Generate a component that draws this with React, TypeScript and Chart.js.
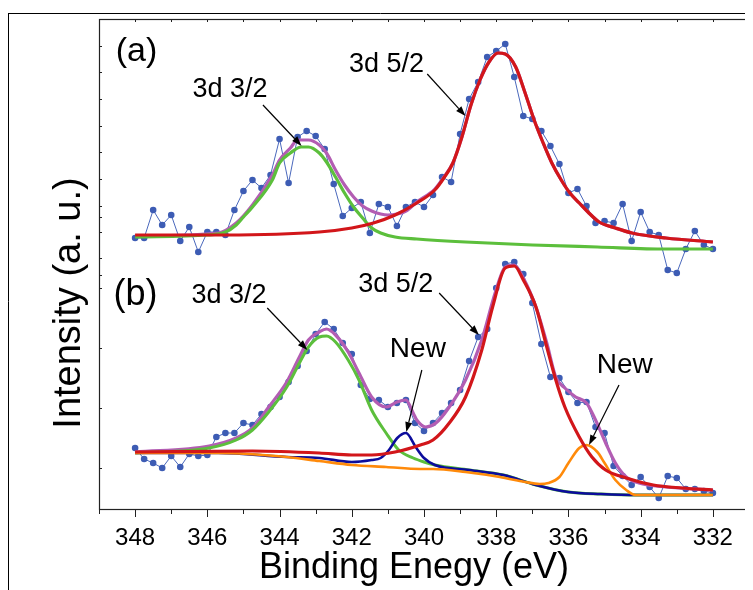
import { useEffect, useRef } from 'react';
import { Chart, registerables } from 'chart.js';

Chart.register(...registerables);

// ---------- data ----------
const energy = [
  348, 347.75, 347.5, 347.25, 347, 346.75, 346.5, 346.25, 346, 345.75, 345.5, 345.25, 345,
  344.75, 344.5, 344.25, 344, 343.75, 343.5, 343.25, 343, 342.75, 342.5, 342.25, 342,
  341.75, 341.5, 341.25, 341, 340.75, 340.5, 340.25, 340, 339.75, 339.5, 339.25, 339,
  338.75, 338.5, 338.25, 338, 337.75, 337.5, 337.25, 337, 336.75, 336.5, 336.25, 336,
  335.75, 335.5, 335.25, 335, 334.75, 334.5, 334.25, 334, 333.75, 333.5, 333.25, 333,
  332.75, 332.5, 332.25, 332,
];

const spectrumA = [
  272, 272, 300, 285, 295, 269, 283, 258, 278, 278, 275, 300, 319, 330, 322, 335, 371, 327, 373, 379,
  374, 361, 326, 294, 302, 308, 277, 306, 303, 284, 303, 308, 303, 315, 333, 328, 376, 411, 428, 453,
  459, 466, 433, 394, 391, 379, 364, 346, 317, 321, 304, 287, 289, 287, 306, 269, 298, 278, 275, 240,
  237, 261, 279, 265, 261,
];

const spectrumB = [
  62, 51, 47, 42, 54, 43, 56, 54, 55, 73, 77, 77, 87, 85, 96, 103, 113, 128, 144, 159,
  176, 188, 181, 167, 156, 125, 111, 110, 103, 107, 110, 87, 79, 87, 97, 107, 120, 149, 173, 181,
  222, 246, 248, 236, 207, 166, 133, 132, 118, 107, 108, 83, 77, 44, 34, 25, 33, 23, 12, 34,
  32, 21, 21, 19, 17,
];

// (a) fitted curves
const fitA32E = [348, 346, 345.5, 345.2, 345, 344.75, 344.2, 344, 343.7, 343.4, 343.2, 342.9, 342.7, 342.45, 342.2, 341.95, 341.7, 341.45, 341.2, 340.8, 340.2, 338.85, 337, 335.2, 333.3, 332];
const fitA32 = [273, 275, 278, 285, 293, 303, 330, 347, 357, 363, 363, 357, 348, 333, 317, 303, 292, 282, 277, 273, 271, 268, 265, 263, 261, 261];

const fitA52E = [348, 345.5, 342.9, 342, 341.4, 340.8, 340.2, 339.7, 339.45, 339.2, 338.95, 338.7, 338.45, 338.2, 337.95, 337.75, 337.46, 337.2, 336.95, 336.7, 336.46, 336.2, 335.96, 335.7, 335.46, 335.15, 334.7, 334.24, 333.3, 332];
const fitA52 = [275, 275, 278, 282, 287, 295, 307, 320, 332, 347, 373, 405, 430, 448, 457, 456, 443, 417, 390, 367, 347, 330, 317, 307, 298, 288, 282, 277, 272, 268];

const fitASumE = [348, 345.7, 345.2, 344.75, 344.2, 344, 343.7, 343.5, 343.2, 342.9, 342.7, 342.45, 342.2, 341.95, 341.7, 341.45, 341.2, 341, 340.75, 340.5, 340.2, 339.7, 339.45, 339.2, 338.95, 338.7, 338.45, 338.2, 337.95, 337.75, 337.46, 337.2, 336.95, 336.7, 336.46, 336.2, 335.96, 335.7, 335.46, 335.15, 334.7, 334.24, 333.3, 332];
const fitASum = [274, 277, 287, 305, 335, 350, 362, 370, 370, 365, 357, 340, 325, 313, 304, 299, 296, 295, 296, 299, 308, 321, 333, 347, 373, 405, 430, 448, 457, 456, 443, 417, 390, 367, 347, 330, 317, 307, 298, 288, 282, 277, 272, 268];

// (b) fitted curves
const fitB32E = [348, 345.95, 345.2, 344.75, 344.3, 343.8, 343.45, 343.2, 342.9, 342.7, 342.45, 342.1, 341.8, 341.45, 341.05, 340.7, 340.3, 340, 339.7, 338.75, 337.8, 336.9, 336, 335.1, 334.1, 332];
const fitB32 = [57, 62, 70, 80, 98, 123, 147, 163, 173, 174, 168, 150, 130, 100, 77, 60, 52, 48, 45, 40, 35, 25, 18, 16, 15, 15];

const fitBNew1E = [348, 345.7, 343.8, 342.9, 342, 341.45, 341.2, 340.97, 340.74, 340.5, 340.23, 340, 339.7, 338.75, 337.8, 336.9, 336, 335.1, 334.1, 332];
const fitBNew1 = [57, 57, 53, 52, 48, 50, 52, 60, 72, 77, 63, 52, 45, 40, 35, 25, 18, 16, 15, 15];

const fitBNew2E = [348, 345.7, 343.8, 342.9, 342, 341.05, 340.1, 339.75, 338.85, 337.9, 337.2, 336.8, 336.55, 336.25, 336, 335.7, 335.5, 335.2, 335, 334.7, 334.4, 334.15, 332];
const fitBNew2 = [57, 57, 53, 49, 45, 43, 41, 41, 38, 33, 28, 26, 27, 33, 47, 62, 65, 58, 47, 30, 20, 15, 15];

const fitB52E = [348, 344.75, 342.9, 342, 341.45, 340.8, 340.1, 339.75, 339.3, 338.85, 338.4, 338.1, 337.75, 337.5, 337.25, 336.9, 336.6, 336.35, 336.1, 335.7, 335.35, 334.97, 334.4, 333.65, 332.85, 332];
const fitB52 = [58, 59, 57, 55, 55, 58, 65, 70, 87, 113, 160, 203, 242, 244, 230, 203, 163, 130, 103, 73, 53, 40, 32, 25, 22, 20];

const fitBSumE = [348, 345.95, 345.2, 344.75, 344.3, 343.8, 343.45, 343.2, 342.9, 342.7, 342.45, 342.1, 341.8, 341.45, 341.05, 340.75, 340.5, 340.3, 340.2, 339.95, 339.67, 339.3, 338.85, 338.4, 338.03, 337.75, 337.5, 337.25, 336.9, 336.6, 336.35, 336.1, 335.8, 335.5, 335.25, 334.97, 334.7, 334.4, 334.05, 333.3, 332];
const fitBSum = [58, 64, 72, 82, 103, 128, 153, 170, 178, 181, 175, 158, 137, 113, 103, 108, 110, 97, 90, 83, 87, 103, 130, 170, 217, 243, 245, 232, 203, 167, 133, 122, 113, 107, 90, 67, 47, 33, 27, 23, 20];

// axes
const xMajorTicks = [348, 346, 344, 342, 340, 338, 336, 334, 332];
const xMinorTicks = [349, 347, 345, 343, 341, 339, 337, 335, 333, 331];
const yTicksLeft = [464, 438, 411, 384, 358, 331, 304, 293, 278, 252, 235, 222, 162, 102, 42];
const yTicksRight = [465, 438, 412, 385, 358, 332, 305, 293, 280, 252, 237, 210, 172, 112, 48];

// annotations
const labelTexts = ['(a)', '3d 3/2', '3d 5/2', '(b)', '3d 3/2', '3d 5/2', 'New', 'New'];
const labelE = [347.96, 345.37, 341.04, 347.99, 345.4, 340.78, 340.17, 334.44];
const labelV = [449, 413, 438, 205, 207, 218, 153, 137];
const labelSize = [34, 27, 27, 36, 27, 27, 28, 28];

const arrowFromE = [344.46, 339.91, 344.34, 339.58, 340.06, 334.6];
const arrowFromV = [405, 436, 202, 217, 140, 125];
const arrowToE = [343.39, 338.85, 343.23, 338.48, 340.49, 335.43];
const arrowToV = [364, 394, 160, 175, 78, 65];

const FONT = "'Liberation Sans', Arial, Helvetica, sans-serif";

const pts = (xs: number[], ys: number[]) => xs.map((x, i) => ({ x, y: ys[i] }));

const fitLine = (label: string, xs: number[], ys: number[], color: string, width: number) => ({
  label,
  data: pts(xs, ys),
  borderColor: color,
  backgroundColor: color,
  borderWidth: width,
  pointRadius: 0,
  cubicInterpolationMode: 'monotone' as const,
  fill: false,
});

const dataLine = (label: string, ys: number[]) => ({
  label,
  data: pts(energy, ys),
  borderColor: '#4a68bc',
  backgroundColor: '#3d5cb4',
  borderWidth: 1,
  pointRadius: 3.3,
  pointBorderWidth: 0,
  pointBackgroundColor: '#3d5cb4',
  tension: 0,
  fill: false,
});

const overlay = {
  id: 'overlay',
  afterDraw(chart: any) {
    const ctx: CanvasRenderingContext2D = chart.ctx;
    const { left, right, top, bottom } = chart.chartArea;
    const xs = chart.scales.x;
    const ys = chart.scales.y;
    ctx.save();

    // outer frame (top and left rules)
    ctx.strokeStyle = '#000';
    ctx.lineWidth = 1;
    ctx.beginPath();
    ctx.moveTo(0, 5.5);
    ctx.lineTo(chart.width, 5.5);
    ctx.moveTo(0.5, 5);
    ctx.lineTo(0.5, chart.height);
    ctx.stroke();

    // plot frame
    ctx.strokeStyle = '#222';
    ctx.lineWidth = 1.2;
    ctx.strokeRect(left + 0.5, top + 0.5, right - left - 1, bottom - top - 1);

    // x ticks
    ctx.lineWidth = 1;
    ctx.beginPath();
    const allX = [...xMajorTicks, ...xMinorTicks];
    allX.forEach((v) => {
      const px = Math.round(xs.getPixelForValue(v)) + 0.5;
      ctx.moveTo(px, top);
      ctx.lineTo(px, top + 3);
    });
    xMajorTicks.forEach((v) => {
      const px = Math.round(xs.getPixelForValue(v)) + 0.5;
      ctx.moveTo(px, bottom);
      ctx.lineTo(px, bottom + 7);
    });
    xMinorTicks.forEach((v) => {
      const px = Math.round(xs.getPixelForValue(v)) + 0.5;
      ctx.moveTo(px, bottom);
      ctx.lineTo(px, bottom + 4);
    });
    yTicksLeft.forEach((v) => {
      const py = Math.round(ys.getPixelForValue(v)) + 0.5;
      ctx.moveTo(left, py);
      ctx.lineTo(left + 3, py);
    });
    yTicksRight.forEach((v) => {
      const py = Math.round(ys.getPixelForValue(v)) + 0.5;
      ctx.moveTo(right, py);
      ctx.lineTo(right - 3, py);
    });
    ctx.stroke();

    // tick labels
    ctx.fillStyle = '#000';
    ctx.textAlign = 'center';
    ctx.textBaseline = 'alphabetic';
    ctx.font = `24px ${FONT}`;
    xMajorTicks.forEach((v) => {
      ctx.fillText(String(v), xs.getPixelForValue(v), bottom + 35);
    });

    // axis titles
    ctx.font = `36px ${FONT}`;
    ctx.fillText('Binding Enegy (eV)', left + 315, bottom + 68);
    ctx.save();
    ctx.translate(left - 19, top + 284);
    ctx.rotate(-Math.PI / 2);
    ctx.font = `38px ${FONT}`;
    ctx.fillText('Intensity (a. u.)', 0, 0);
    ctx.restore();

    // annotation labels
    labelTexts.forEach((t, i) => {
      ctx.font = `${labelSize[i]}px ${FONT}`;
      ctx.fillText(t, xs.getPixelForValue(labelE[i]), ys.getPixelForValue(labelV[i]));
    });

    // arrows
    ctx.strokeStyle = '#000';
    ctx.fillStyle = '#000';
    ctx.lineWidth = 1.2;
    arrowFromE.forEach((_, i) => {
      const x1 = xs.getPixelForValue(arrowFromE[i]);
      const y1 = ys.getPixelForValue(arrowFromV[i]);
      const x2 = xs.getPixelForValue(arrowToE[i]);
      const y2 = ys.getPixelForValue(arrowToV[i]);
      const ang = Math.atan2(y2 - y1, x2 - x1);
      const hl = 10;
      const hw = 3.5;
      const bx = x2 - hl * Math.cos(ang);
      const by = y2 - hl * Math.sin(ang);
      ctx.beginPath();
      ctx.moveTo(x1, y1);
      ctx.lineTo(bx, by);
      ctx.stroke();
      ctx.beginPath();
      ctx.moveTo(x2, y2);
      ctx.lineTo(bx + hw * Math.sin(ang), by - hw * Math.cos(ang));
      ctx.lineTo(bx - hw * Math.sin(ang), by + hw * Math.cos(ang));
      ctx.closePath();
      ctx.fill();
    });

    ctx.restore();
  },
};

export default function App() {
  const ref = useRef<HTMLCanvasElement | null>(null);

  useEffect(() => {
    if (!ref.current) return;
    const RED = '#d2161a';
    const GREEN = '#5cbf3c';
    const PURPLE = '#b35db3';
    const NAVY = '#0c0c9c';
    const ORANGE = '#ff8a0a';
    const chart = new Chart(ref.current, {
      type: 'line',
      data: {
        datasets: [
          fitLine('(a) 3d 5/2', fitA52E, fitA52, RED, 3.2),
          fitLine('(b) 3d 5/2', fitB52E, fitB52, RED, 3.2),
          fitLine('(b) New 2', fitBNew2E, fitBNew2, ORANGE, 2.6),
          fitLine('(b) New 1', fitBNew1E, fitBNew1, NAVY, 2.6),
          fitLine('(a) 3d 3/2', fitA32E, fitA32, GREEN, 3.2),
          fitLine('(b) 3d 3/2', fitB32E, fitB32, GREEN, 3),
          fitLine('(a) sum', fitASumE, fitASum, PURPLE, 3.2),
          fitLine('(b) sum', fitBSumE, fitBSum, PURPLE, 3.2),
          dataLine('(a) data', spectrumA),
          dataLine('(b) data', spectrumB),
        ] as any,
      },
      options: {
        animation: false,
        responsive: false,
        devicePixelRatio: 1,
        layout: { padding: { left: 91, right: 3, top: 11, bottom: 80 } },
        scales: {
          x: { type: 'linear', min: 331, max: 349, reverse: true, display: false },
          y: { type: 'linear', min: 0, max: 491, display: false },
        },
        plugins: {
          legend: { display: false },
          tooltip: { enabled: false },
        },
        elements: { line: { capBezierPoints: true } },
      },
      plugins: [overlay],
    });
    return () => chart.destroy();
  }, []);

  return (
    <div style={{ width: 745, height: 582 }}>
      <canvas ref={ref} width={745} height={582} style={{ display: 'block', width: 745, height: 582 }} />
    </div>
  );
}
